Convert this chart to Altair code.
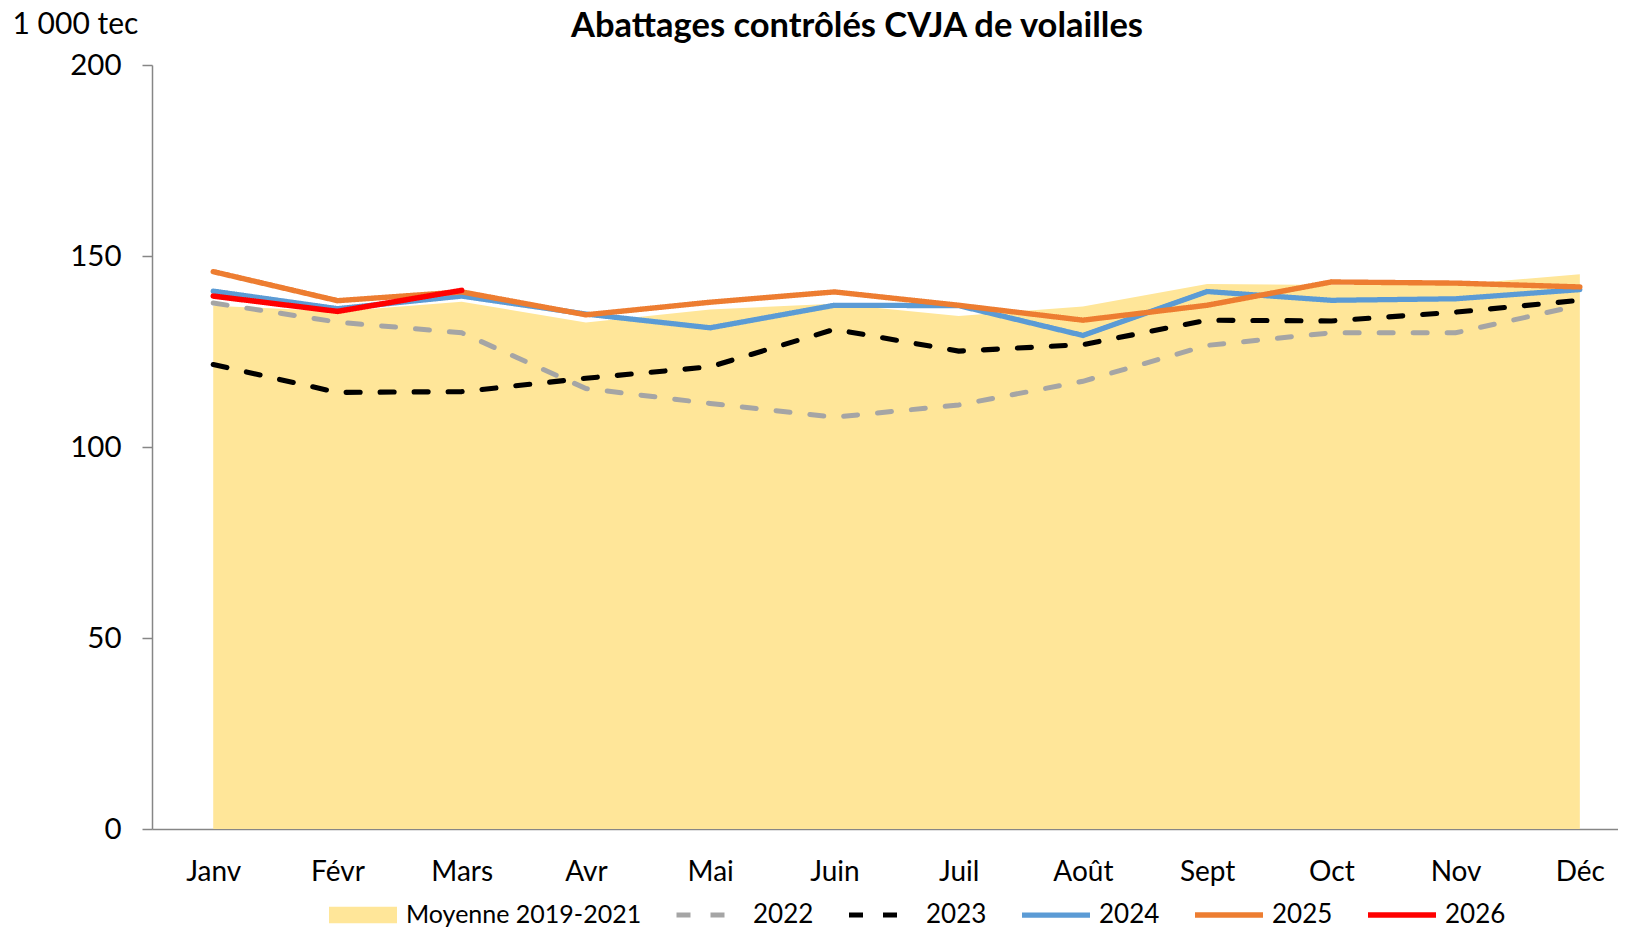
import altair as alt
import pandas as pd

months = ["Janv", "Févr", "Mars", "Avr", "Mai", "Juin", "Juil", "Août", "Sept", "Oct", "Nov", "Déc"]

moyenne_label = "Moyenne 2019-2021"
moyenne = [137.0, 135.5, 138.0, 132.6, 136.0, 137.5, 134.3, 136.8, 142.7, 142.4, 142.5, 145.2]

s2022 = [137.7, 132.7, 129.9, 115.3, 111.4, 107.8, 111.0, 117.2, 126.6, 129.9, 129.9, 137.1]
s2023 = [121.6, 114.3, 114.5, 118.0, 121.0, 130.8, 125.1, 126.8, 133.2, 133.0, 135.3, 138.4]
s2024 = [140.8, 136.2, 139.5, 134.8, 131.2, 137.1, 137.0, 129.2, 140.7, 138.4, 138.8, 141.2]
s2025 = [145.9, 138.3, 140.6, 134.6, 137.9, 140.6, 137.1, 133.2, 137.1, 143.2, 142.9, 141.9]
s2026 = [139.5, 135.5, 141.0, None, None, None, None, None, None, None, None, None]

series_names = ["2022", "2023", "2024", "2025", "2026"]
series_values = [s2022, s2023, s2024, s2025, s2026]
line_colors = ["#A5A5A5", "#000000", "#5B9BD5", "#ED7D31", "#FF0000"]
line_dashes = [[14, 20], [14, 20], [1, 0], [1, 0], [1, 0]]
line_widths = [5.0, 5.5, 4.0, 5.2, 4.6]

y_ticks = [0, 50, 100, 150, 200]

rows = []
for name, vals in zip(series_names, series_values):
    for m, v in zip(months, vals):
        if v is not None:
            rows.append({"Mois": m, "Valeur": v, "Série": name})
lines_df = pd.DataFrame(rows)
area_df = pd.DataFrame({"Mois": months, "Valeur": moyenne, "Série": [moyenne_label] * len(months)})

FONT = "Lato"
AXIS_GREY = "#868686"
PLOT_W = 1466
PLOT_H = 764
LEGEND_Y = 838

x_enc = alt.X(
    "Mois:N",
    sort=months,
    scale=alt.Scale(type="point", padding=0.4, align=0.616),
    axis=alt.Axis(
        title=None, labelAngle=0, ticks=False, labelPadding=29,
        labelFontSize=28, labelColor="#000000", domainColor=AXIS_GREY, domainWidth=1.5,
    ),
)
y_enc = alt.Y(
    "Valeur:Q",
    scale=alt.Scale(domain=[0, 200]),
    axis=alt.Axis(
        values=y_ticks, grid=False, title="1 000 tec", titleAngle=0, titleAlign="left",
        titleBaseline="middle", titleX=-140, titleY=-41, titleFontSize=30,
        titleFontWeight="normal", titleColor="#000000", labelFontSize=29.5, labelColor="#000000",
        labelPadding=21, tickSize=10, tickColor=AXIS_GREY, tickWidth=1.5,
        domainColor=AXIS_GREY, domainWidth=1.5,
    ),
)

area = alt.Chart(area_df).mark_area(opacity=1).encode(
    x=x_enc,
    y=y_enc,
    fill=alt.Fill(
        "Série:N",
        scale=alt.Scale(domain=[moyenne_label], range=["#FFE699"]),
        legend=alt.Legend(
            title=None, orient="none", legendX=177, legendY=LEGEND_Y, direction="horizontal",
            symbolType="M-1,-0.24H1V0.24H-1Z", symbolSize=4624, symbolStrokeWidth=0,
            labelFontSize=25, labelOffset=9, labelColor="#000000", labelLimit=400,
            clipHeight=24, padding=0,
        ),
    ),
)

line_legend = dict(
    title=None, orient="none", legendX=522, legendY=LEGEND_Y, direction="horizontal",
    symbolType="stroke", symbolSize=4624, symbolStrokeWidth=4.5,
    labelFontSize=26, labelOffset=6, labelColor="#000000", labelLimit=200, columnPadding=32,
    clipHeight=24, padding=0,
)

lines = alt.Chart(lines_df).mark_line(strokeCap="round").encode(
    x=x_enc,
    y=y_enc,
    color=alt.Color("Série:N", scale=alt.Scale(domain=series_names, range=line_colors),
                    legend=alt.Legend(**line_legend)),
    strokeDash=alt.StrokeDash("Série:N", scale=alt.Scale(domain=series_names, range=line_dashes),
                              legend=alt.Legend(**line_legend)),
    strokeWidth=alt.StrokeWidth("Série:N", scale=alt.Scale(domain=series_names, range=line_widths),
                                legend=None),
)

chart = (
    alt.layer(area, lines)
    .resolve_legend(fill="independent")
    .properties(
        width=PLOT_W,
        height=PLOT_H,
        padding={"left": 4, "top": 0, "right": 0, "bottom": 0},
        title=alt.TitleParams(
            "Abattages contrôlés CVJA de volailles", fontSize=34.5, fontWeight="bold",
            font=FONT, color="#000000", anchor="middle", dx=-28, offset=-35,
        ),
    )
    .configure(font=FONT)
    .configure_view(stroke=None)
)

chart.save("out.html", embed_options={"renderer": "svg", "actions": False})
